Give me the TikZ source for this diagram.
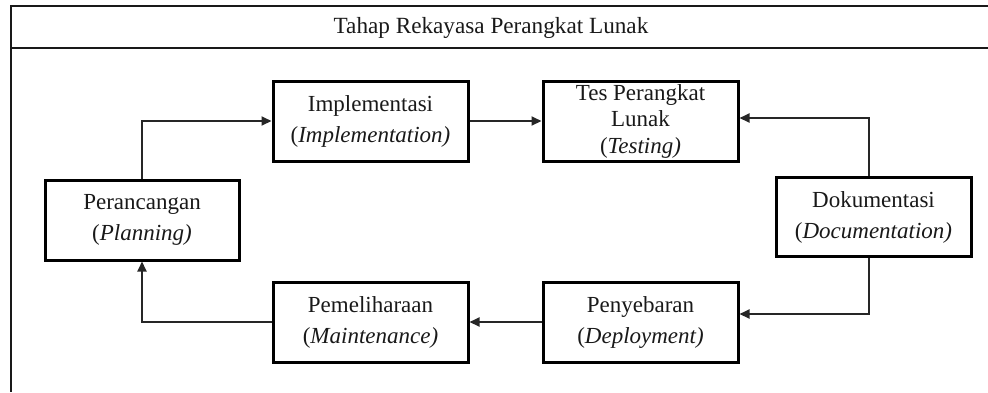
\documentclass[tikz,border=0pt]{standalone}
\usepackage{fontspec}
\setmainfont{Liberation Serif}
\usetikzlibrary{arrows.meta}
\begin{document}
\begin{tikzpicture}[x=1pt,y=-1pt,
  stage/.style={draw=black,line width=3pt,minimum width=195pt,minimum height=80pt,
    align=center,inner sep=2pt,text=black!90,font=\fontsize{23}{31}\selectfont},
  link/.style={draw=black!85,line width=2pt,-{Triangle[length=10pt,width=9pt]}},
  frame/.style={draw=black!90,line width=2.6pt}]
\useasboundingbox (0,0) rectangle (988,392);
% frame
\coordinate (ftl) at (11,6);
\coordinate (ftr) at (988,6);
\coordinate (fml) at (11,48);
\coordinate (fmr) at (988,48);
\coordinate (fbl) at (11,392);
\draw[frame] (ftr) -- (ftl) -- (fbl);
\draw[frame] (fml) -- (fmr);
\node[font=\fontsize{23.2}{26}\selectfont,text=black!90] (title) at (491,28) {Tahap Rekayasa Perangkat Lunak};
% stages
\node[stage,minimum width=194pt] (plan) at (142,220) {Perancangan\\(\textit{Planning)}};
\node[stage] (impl) at (370.5,121) {Implementasi\\(\textit{Implementation)}};
\node[stage,font=\fontsize{23}{26.5}\selectfont,inner sep=0pt] (test) at (640.5,121) {\raisebox{-7pt}{\parbox{190pt}{\centering Tes Perangkat\\Lunak\\(\textit{Testing)}}}};
\node[stage,minimum height=79pt] (doc) at (873.5,217) {Dokumentasi\\(\textit{Documentation)}};
\node[stage] (main) at (370.5,322) {Pemeliharaan\\(\textit{Maintenance)}};
\node[stage] (depl) at (640.5,322) {Penyebaran\\(\textit{Deployment)}};
% connectors
\draw[link] (plan.north) |- (impl.west);
\draw[link] (impl.east) -- (test.west);
\draw[link] ([xshift=-5pt]doc.north) |- ([yshift=3pt]test.east);
\draw[link] ([xshift=-5pt]doc.south) |- ([yshift=8pt]depl.east);
\draw[link] (depl.west) -- (main.east);
\draw[link] (main.west) -| (plan.south);
\end{tikzpicture}
\end{document}
